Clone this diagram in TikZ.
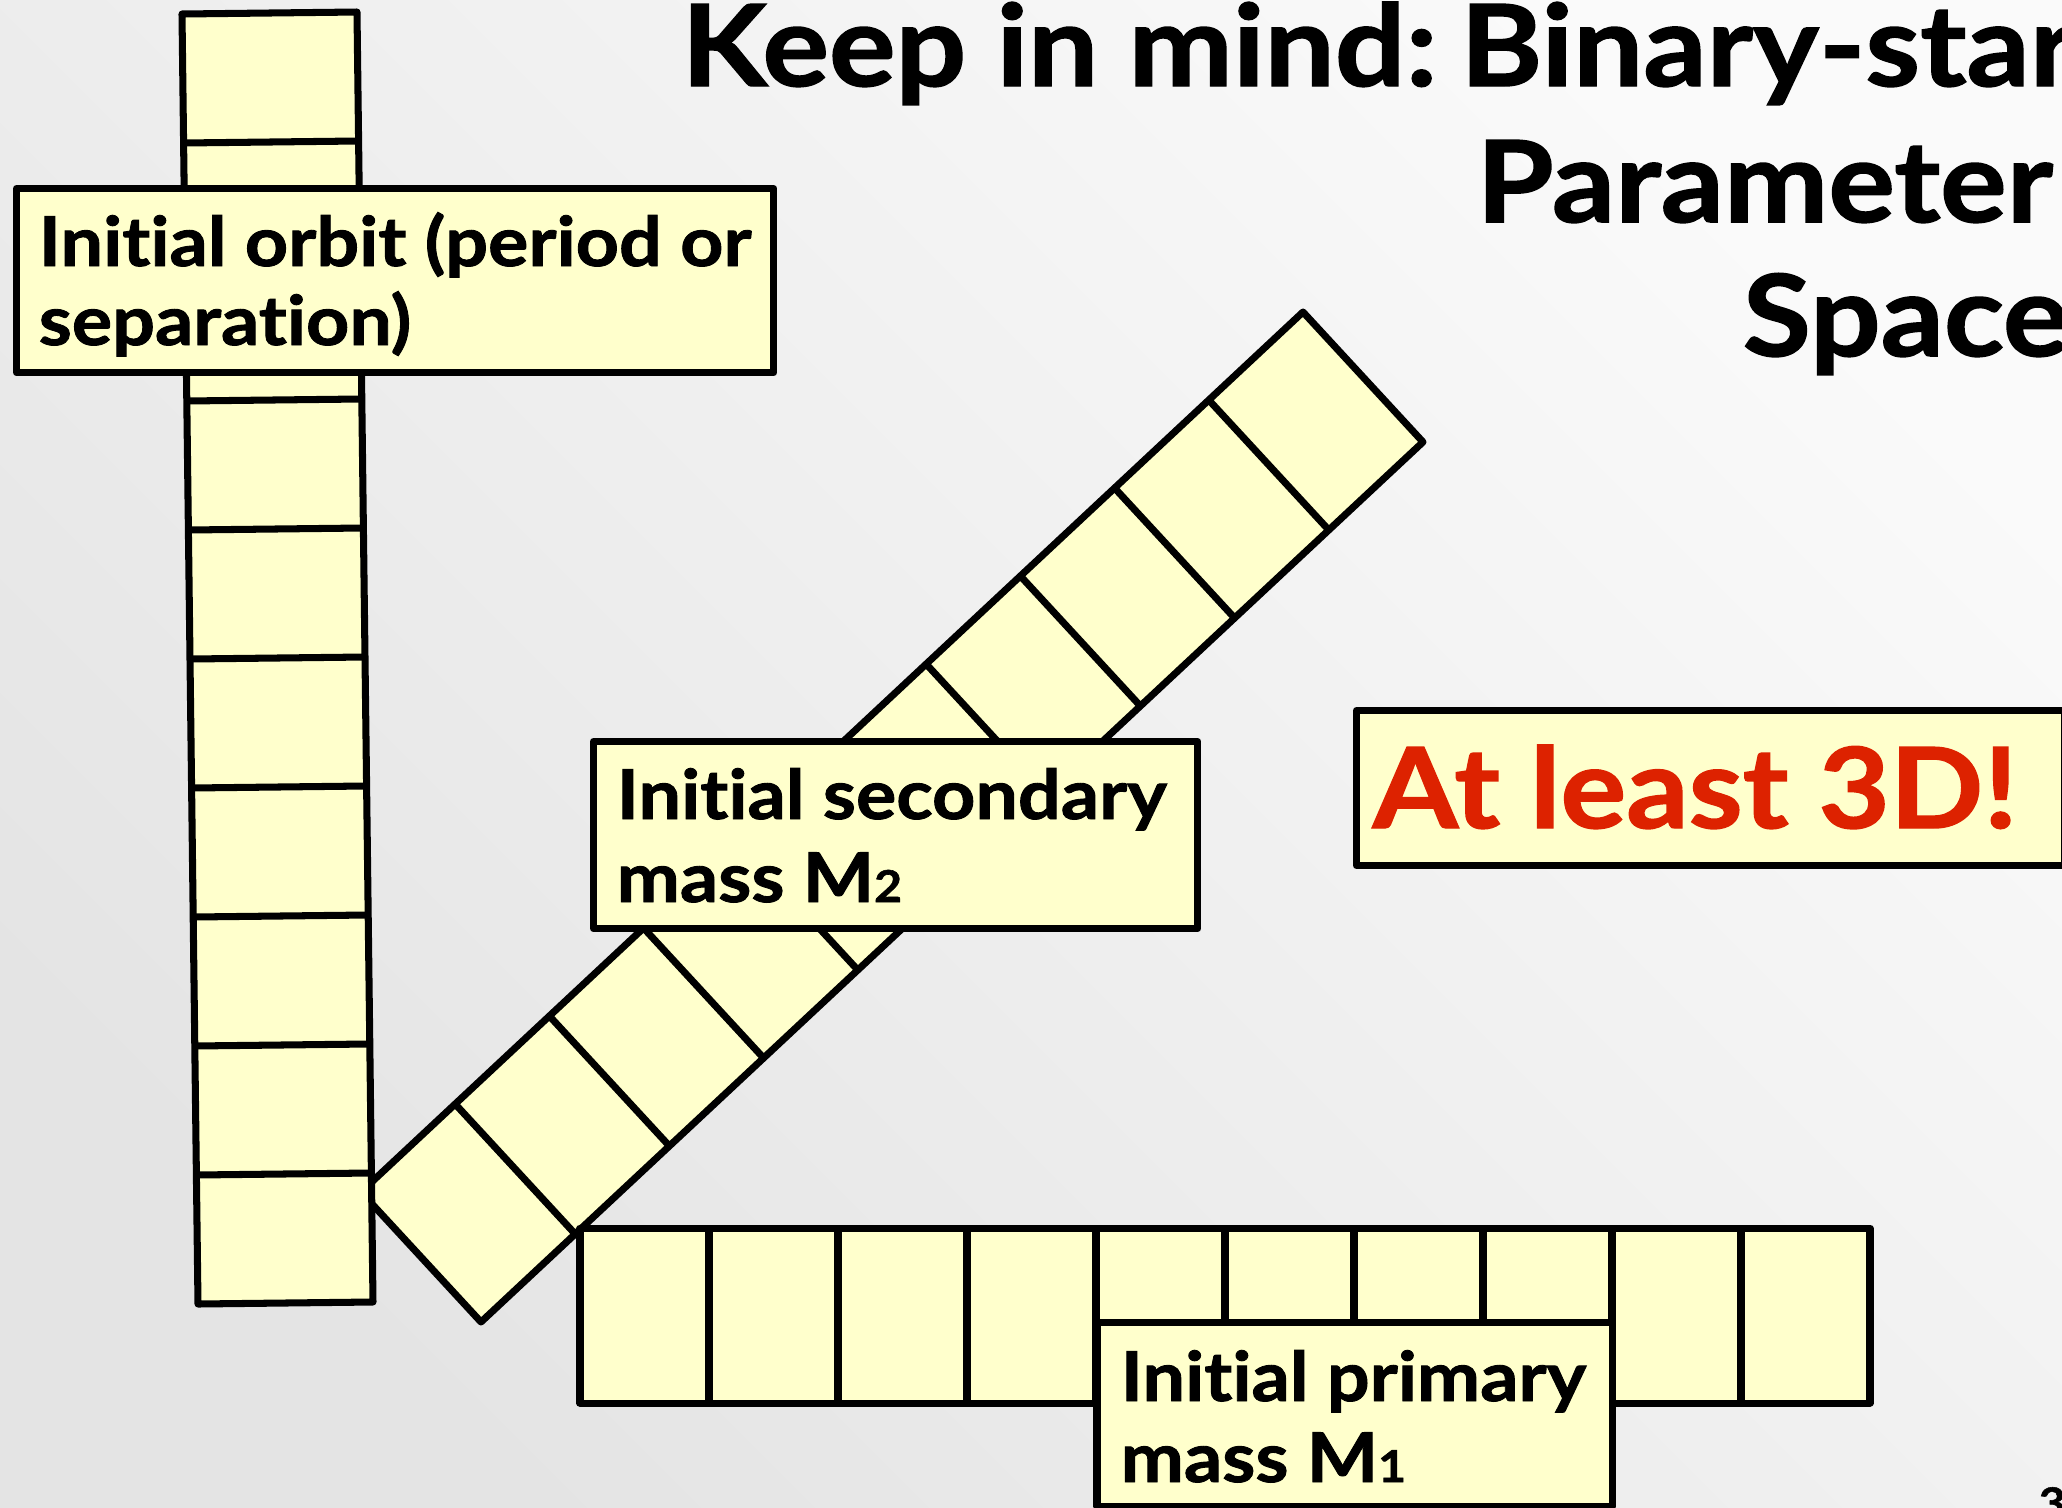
\documentclass[tikz,border=0pt]{standalone}
\usepackage{fontspec}
\setmainfont{Lato}[Ligatures={NoCommon,NoRare}, BoldFeatures={FakeStretch=1.10, FakeBold=1.3}]
\usetikzlibrary{calc}
\definecolor{cellfill}{HTML}{FFFFCC}
\definecolor{redtxt}{HTML}{DD2200}
\definecolor{bgdark}{HTML}{E4E4E4}
\definecolor{bglight}{HTML}{FAFAFA}
\newcommand{\sbs}[1]{{\fontsize{12.5}{12}\selectfont #1}}
\begin{document}
\begin{tikzpicture}[x=0.01cm,y=-0.01cm,
  stripfill/.style={fill=cellfill, draw=black, line width=2pt, line join=round},
  cellline/.style={draw=black, line width=2pt},
  labelbox/.style={fill=cellfill, draw=black, line width=2pt, line join=round, rectangle, inner sep=0pt, outer sep=0pt, anchor=north west},
  lbl/.style={font=\fontsize{19.5}{23}\selectfont\bfseries, inner sep=0pt, anchor=base west},
  bigred/.style={font=\fontsize{31.8}{38}\selectfont\bfseries, text=redtxt, inner sep=0pt, anchor=base west},
  titletxt/.style={font=\fontsize{32.2}{38}\selectfont\bfseries, inner sep=0pt, anchor=base west},
]
\useasboundingbox (0,0) rectangle (2062,1508);
\clip (0,0) rectangle (2062,1508);
\shade[top color=bglight, bottom color=bgdark, shading angle=-45] (0,0) rectangle (2062,1508);

% title
\node[titletxt] (t1) at (681,86) {Keep in mind:\hspace{0.2em}Binary-star};
\node[titletxt] (t2) at (1476,222) {Parameter};
\node[titletxt] (t3) at (1742,356) {Space};

% diagonal strip (secondary mass)
\coordinate (dL) at (361,1192);
\coordinate (dT) at (1303,312);
\coordinate (dR) at (1423,442);
\coordinate (dB) at (481,1322);
\filldraw[stripfill] (dL) -- (dT) -- (dR) -- (dB) -- cycle;
\foreach \i in {1,...,9}
  \draw[cellline] ($(dL)!\i/10!(dT)$) -- ($(dB)!\i/10!(dR)$);

% vertical column (orbit)
\coordinate (cTL) at (182,14);
\coordinate (cTR) at (357,12);
\coordinate (cBR) at (373,1302);
\coordinate (cBL) at (198,1304);
\filldraw[stripfill] (cTL) -- (cTR) -- (cBR) -- (cBL) -- cycle;
\foreach \i in {1,...,9}
  \draw[cellline] ($(cTL)!\i/10!(cBL)$) -- ($(cTR)!\i/10!(cBR)$);

% horizontal strip (primary mass)
\coordinate (hTL) at (580,1228);
\coordinate (hTR) at (1870,1228);
\coordinate (hBR) at (1870,1403);
\coordinate (hBL) at (580,1403);
\filldraw[stripfill] (hTL) -- (hTR) -- (hBR) -- (hBL) -- cycle;
\foreach \i in {1,...,9}
  \draw[cellline] ($(hTL)!\i/10!(hTR)$) -- ($(hBL)!\i/10!(hBR)$);

% labels
\node[labelbox, minimum width=7.57cm, minimum height=1.84cm] (orbitbox) at (16.5,188.5) {};
\node[lbl] (orbit1) at (38,266) {Initial orbit (period or};
\node[lbl] (orbit2) at (38,345) {separation)};

\node[labelbox, minimum width=6.04cm, minimum height=1.87cm] (secbox) at (593.5,741.5) {};
\node[lbl] (sec1) at (616,819) {Initial secondary};
\node[lbl] (sec2) at (616,902) {mass M\sbs{2}};

\node[labelbox, minimum width=7.08cm, minimum height=1.55cm] (dbox) at (1356.5,710.5) {};
\node[bigred] (dtxt) at (1372,828) {At least 3D!};

\node[labelbox, minimum width=5.15cm, minimum height=1.84cm] (primbox) at (1097,1322) {};
\node[lbl] (prim1) at (1120,1401) {Initial primary};
\node[lbl] (prim2) at (1120,1482) {mass M\sbs{1}};

% slide number
\node[font=\fontsize{12}{12}\selectfont\bfseries, inner sep=0pt, anchor=base west] (pnum) at (2038,1518) {3};
\end{tikzpicture}
\end{document}
